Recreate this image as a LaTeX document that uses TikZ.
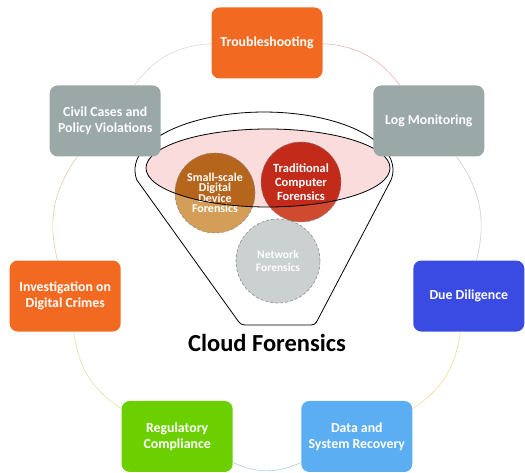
\documentclass[tikz,border=0pt]{standalone}
\usepackage{fontspec}
\setmainfont{Carlito}
\usepackage{tikz}
\usetikzlibrary{shapes.geometric, positioning}
\definecolor{orangeF}{HTML}{F26A21}
\definecolor{grisB}{HTML}{9AA8A8}
\definecolor{bleuF}{HTML}{3A4BE4}
\definecolor{bleuC}{HTML}{5CAEF2}
\definecolor{vertF}{HTML}{6CD000}
\definecolor{rose}{HTML}{FADCDC}
\definecolor{brunF}{HTML}{B6651C}
\definecolor{brunC}{HTML}{D49E58}
\definecolor{rougeF}{HTML}{C22A1A}
\definecolor{rougeC}{HTML}{D04A30}
\definecolor{grisR}{HTML}{CBD0D0}
\definecolor{lienA}{HTML}{EAB4AA}
\definecolor{lienB}{HTML}{C9D0D0}
\definecolor{lienC}{HTML}{EEDB92}
\definecolor{lienD}{HTML}{A9CDE8}
\definecolor{lienE}{HTML}{D8E4A8}
\definecolor{lienF}{HTML}{ECC6A6}
\definecolor{lienG}{HTML}{D9D9D9}

\begin{document}
\begin{tikzpicture}[x=1pt,y=1pt]
            % Styles
            \tikzstyle{boite}=[rectangle,rounded corners=8pt,minimum width=111pt,minimum height=71pt,inner sep=2pt,align=center,text=white,font=\fontsize{13.8}{16}\selectfont\bfseries]
            \tikzstyle{cercle}=[circle,minimum size=80pt,inner sep=0pt,align=center,text=white,draw=black!45,densely dashed,line width=0.6pt,font=\fontsize{12.5}{14}\selectfont\bfseries]
            \tikzstyle{liaison}=[line width=0.6pt]
            \tikzstyle{entonnoir}=[fill=white,draw=black,line width=0.8pt]
            \tikzstyle{titre}=[font=\fontsize{24.5}{28}\selectfont\bfseries]
            % Dimensions
            \def\Cx{267}
            \def\Cy{222}
            \def\Rayon{207}
            \def\Pas{51.43}
            \useasboundingbox (0,0) rectangle (525,472);
            % Entonnoir
            \draw[entonnoir] (391,291.9) arc[start angle=-10,end angle=190,x radius=129,y radius=58] -- (236.3,153.5) .. controls (241,147) .. (249,147) -- (307,147) .. controls (315,147) .. (318.7,154.1) -- cycle;
            \fill[rose] (268,304) ellipse[x radius=122,y radius=39];
            % Disques
            \coordinate (pSd) at (215,279);
            \coordinate (pTc) at (301,290);
            \coordinate (pNf) at (278,211);
            \fill[grisR] (pNf) circle[radius=42];
            \fill[brunC] (pSd) circle[radius=40];
            \fill[rougeC] (pTc) circle[radius=40];
            \begin{scope}
                \clip (268,304) ellipse[x radius=122,y radius=39];
                \fill[brunF] (pSd) circle[radius=40];
                \fill[rougeF] (pTc) circle[radius=40];
            \end{scope}
            \node[cercle,minimum size=84pt,font=\fontsize{11.5}{13.5}\selectfont\bfseries] (Nf) at (pNf) {Network\\Forensics};
            \node[cercle,font=\fontsize{12}{10.5}\selectfont\bfseries] (Sd) at (pSd) {Small-scale\\Digital\\Device\\Forensics};
            \node[cercle] (Tc) at (pTc) {Traditional\\Computer\\Forensics};
            \draw[line width=0.8pt] (268,304) ellipse[x radius=122,y radius=39];
            \node[titre] (Cf) at (267,129) {Cloud Forensics};
            % Boites
            \node[boite,fill=orangeF] (Tr) at ({\Cx+\Rayon*cos(90)},{\Cy+\Rayon*sin(90)}) {Troubleshooting};
            \node[boite,fill=grisB] (Lm) at ({\Cx+\Rayon*cos(90-\Pas)},{\Cy+\Rayon*sin(90-\Pas)}) {Log Monitoring};
            \node[boite,fill=bleuF] (Dd) at ({\Cx+\Rayon*cos(90-2*\Pas)},{\Cy+\Rayon*sin(90-2*\Pas)}) {Due Diligence};
            \node[boite,fill=bleuC] (Dr) at ({\Cx+\Rayon*cos(90-3*\Pas)},{\Cy+\Rayon*sin(90-3*\Pas)}) {Data and\\System Recovery};
            \node[boite,fill=vertF] (Rc) at ({\Cx+\Rayon*cos(90-4*\Pas)},{\Cy+\Rayon*sin(90-4*\Pas)}) {Regulatory\\Compliance};
            \node[boite,fill=orangeF] (Ic) at ({\Cx+\Rayon*cos(90-5*\Pas)},{\Cy+\Rayon*sin(90-5*\Pas)}) {Investigation on\\Digital Crimes};
            \node[boite,fill=grisB] (Cc) at ({\Cx+\Rayon*cos(90-6*\Pas)},{\Cy+\Rayon*sin(90-6*\Pas)}) {Civil Cases and\\Policy Violations};
            % Arcs
            \draw[liaison,draw=lienA] (Tr) to[bend left=25] (Lm);
            \draw[liaison,draw=lienB] (Lm) to[bend left=25] (Dd);
            \draw[liaison,draw=lienC] (Dd) to[bend left=25] (Dr);
            \draw[liaison,draw=lienD] (Dr) to[bend left=25] (Rc);
            \draw[liaison,draw=lienE] (Rc) to[bend left=25] (Ic);
            \draw[liaison,draw=lienF] (Ic) to[bend left=25] (Cc);
            \draw[liaison,draw=lienG] (Cc) to[bend left=25] (Tr);
        \end{tikzpicture}
\end{document}
